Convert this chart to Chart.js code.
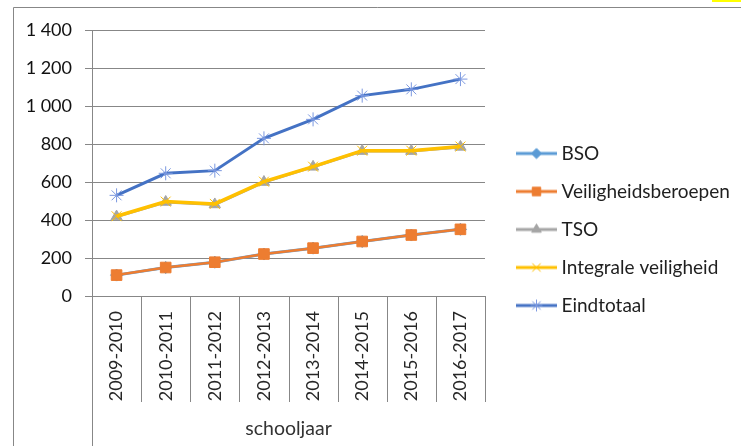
<!DOCTYPE html>
<html>
<head>
<meta charset="utf-8">
<script src="https://cdn.jsdelivr.net/npm/chart.js@4/dist/chart.umd.min.js"></script>
<style>
  html, body { margin: 0; padding: 0; background: #fff; }
  #wrap { width: 741px; height: 446px; }
</style>
</head>
<body>
<div id="wrap"><canvas id="chart_one" width="741" height="446"></canvas></div>
<script>
const schooljaren = ['2009-2010', '2010-2011', '2011-2012', '2012-2013', '2013-2014', '2014-2015', '2015-2016', '2016-2017'];
const bso = [110, 150, 178, 221, 252, 287, 321, 351];
const veiligheidsberoepen = [110, 150, 178, 221, 252, 287, 321, 351];
const tso = [418, 495, 482, 600, 680, 763, 763, 785];
const integraleVeiligheid = [420, 497, 485, 602, 681, 765, 765, 787];
const eindtotaal = [530, 646, 660, 830, 930, 1055, 1088, 1142];
const yTicks = [0, 200, 400, 600, 800, 1000, 1200, 1400];

const FONT = 'Lato';
const GRID = '#878787';
const LEGEND_SIZE = 19;
const LEGEND_PAD = 19;
const ICON_W = 48;
const LEGEND_W = 256;   // space right of the plot

// legend icon: short line with the marker in the middle
function legendIcon(line, style, fill, border, r) {
  const c = document.createElement('canvas');
  c.width = 58; c.height = 18;
  const g = c.getContext('2d');
  g.strokeStyle = line; g.lineWidth = 3;
  g.beginPath(); g.moveTo(17, 9); g.lineTo(58, 9); g.stroke();
  g.fillStyle = fill; g.strokeStyle = border; g.lineWidth = 1;
  Chart.helpers.drawPoint(g, {pointStyle: style, radius: r, borderWidth: 1}, 37.5, 9);
  return c;
}

const series = [
  {label: 'BSO', data: bso, color: '#5B9BD5', mark: '#5B9BD5', style: 'rectRot', r: 6, w: 3},
  {label: 'Veiligheidsberoepen', data: veiligheidsberoepen, color: '#ED7D31', mark: '#ED7D31', style: 'rect', r: 7.5, w: 2.5},
  {label: 'TSO', data: tso, color: '#A5A5A5', mark: '#A5A5A5', style: 'triangle', r: 6.5, w: 3},
  {label: 'Integrale veiligheid', data: integraleVeiligheid, color: '#FFC000', mark: '#FFC000', style: 'crossRot', r: 7, w: 3.5},
  {label: 'Eindtotaal', data: eindtotaal, color: '#4472C4', mark: '#7b98e0', style: 'star', r: 7, w: 3}
];

const icons = series.map(s => legendIcon(s.color, s.style, s.mark, s.mark, s.style === 'rect' ? 6 : s.r * 0.85));

// how wide the legend comes out, so the plot ends where it should
const meas = document.createElement('canvas').getContext('2d');
meas.font = LEGEND_SIZE + 'px ' + FONT;
const textW = Math.max(...series.map(s => meas.measureText(s.label).width));
const legendContent = LEGEND_PAD + ICON_W + LEGEND_SIZE / 2 + textW + 10;
const padRight = Math.max(0, LEGEND_W - legendContent);

const frame = {
  id: 'frame',
  beforeDraw(chart) {
    const ctx = chart.ctx;
    ctx.save();
    ctx.fillStyle = '#fff';
    ctx.fillRect(0, 0, chart.width, chart.height);
    ctx.strokeStyle = GRID;
    ctx.lineWidth = 1;
    ctx.beginPath();
    ctx.moveTo(13.5, chart.height);
    ctx.lineTo(13.5, 7.5);
    ctx.lineTo(chart.width, 7.5);
    ctx.stroke();
    ctx.fillStyle = '#ffff00';
    ctx.fillRect(712, 0, 29, 2);
    ctx.restore();
  },
  afterDraw(chart) {
    const ctx = chart.ctx;
    const x = chart.scales.x;
    const bottom = chart.chartArea.bottom;
    ctx.save();
    ctx.strokeStyle = GRID;
    ctx.lineWidth = 1;
    ctx.beginPath();
    for (let i = 0; i <= schooljaren.length; i++) {
      const px = Math.round(x.getPixelForValue(i - 0.5)) + 0.5;
      ctx.moveTo(px, bottom);
      ctx.lineTo(px, i === 0 ? chart.height : bottom + 106);
    }
    ctx.stroke();
    ctx.restore();
  }
};

const ctx = document.getElementById('chart_one');

new Chart(ctx, {
  type: 'line',
  data: {
    labels: schooljaren,
    datasets: series.map((s, i) => ({
      label: s.label,
      data: s.data,
      borderColor: s.color,
      backgroundColor: s.mark,
      pointBorderColor: s.mark,
      pointBackgroundColor: s.mark,
      pointStyle: s.style,
      pointRadius: s.r,
      pointBorderWidth: 1,
      borderWidth: s.w,
      tension: 0,
      order: series.length - i
    }))
  },
  options: {
    responsive: false,
    animation: false,
    events: [],
    layout: { padding: { top: 13, right: padRight, bottom: 0, left: 0 } },
    plugins: {
      tooltip: { enabled: false },
      legend: {
        position: 'right',
        align: 'center',
        maxWidth: LEGEND_W,
        labels: {
          usePointStyle: true,
          pointStyleWidth: ICON_W,
          boxHeight: 18,
          padding: LEGEND_PAD,
          color: '#1f1f1f',
          font: { family: FONT, size: LEGEND_SIZE },
          generateLabels: () => series.map((s, i) => ({
            text: s.label,
            datasetIndex: i,
            pointStyle: icons[i],
            fillStyle: s.color,
            strokeStyle: s.color,
            lineWidth: 0,
            hidden: false,
            fontColor: '#1f1f1f'
          }))
        }
      }
    },
    scales: {
      x: {
        offset: true,
        afterFit: s => { s.height = 150; },
        grid: { display: true, drawOnChartArea: false, drawTicks: false, offset: true, color: 'rgba(0,0,0,0)' },
        border: { display: true, color: GRID, width: 1 },
        ticks: {
          minRotation: 90, maxRotation: 90, padding: 15,
          color: '#262626',
          font: { family: FONT, size: 18 }
        },
        title: {
          display: true,
          text: 'schooljaar',
          color: '#333',
          font: { family: FONT, size: 19.5 },
          padding: { top: 0, bottom: 6 }
        }
      },
      y: {
        min: 0,
        max: 1400,
        afterFit: s => { s.width = 92; },
        afterBuildTicks: s => { s.ticks = yTicks.map(v => ({ value: v })); },
        grid: { color: GRID, lineWidth: 1, tickLength: 7, drawTicks: true },
        border: { display: true, color: GRID, width: 1 },
        ticks: {
          padding: 13,
          color: '#111',
          font: { family: FONT, size: 18, lineHeight: 1.9 },
          callback: v => String(v).replace(/\B(?=(\d{3})+(?!\d))/g, ' ')
        }
      }
    }
  },
  plugins: [frame]
});
</script>
</body>
</html>
